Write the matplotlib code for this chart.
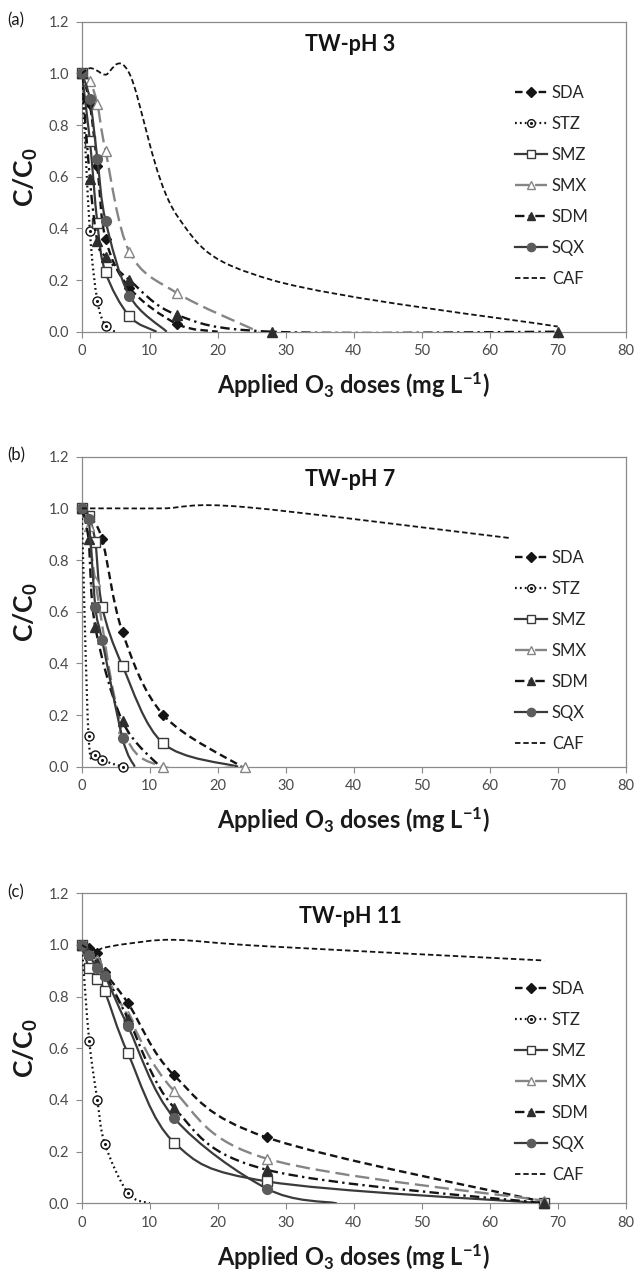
import numpy as np
import matplotlib
matplotlib.use("Agg")
import matplotlib.pyplot as plt
from matplotlib.path import Path
from matplotlib.patches import PathPatch
from matplotlib.lines import Line2D

nan = np.nan

plt.rcParams['font.family'] = ['Lato', 'DejaVu Sans']
plt.rcParams['mathtext.default'] = 'regular'

compounds = ['SDA', 'STZ', 'SMZ', 'SMX', 'SDM', 'SQX', 'CAF']
panel_tags = ['(a)', '(b)', '(c)']
panel_titles = ['TW-pH 3', 'TW-pH 7', 'TW-pH 11']

# --- panel (a) TW-pH 3
doses_a = [0, 1.2, 2.3, 3.5, 7, 14, 28, 70]
sda_a = [1.0, 0.88, 0.64, 0.36, 0.17, 0.03, nan, nan]
stz_a = [1.0, 0.39, 0.12, 0.023, nan, nan, nan, nan]
smz_a = [1.0, 0.74, 0.42, 0.23, 0.06, nan, nan, nan]
smx_a = [1.0, 0.97, 0.88, 0.70, 0.31, 0.15, nan, nan]
sdm_a = [1.0, 0.59, 0.35, 0.29, 0.20, 0.065, 0.0, 0.0]
sqx_a = [1.0, 0.90, 0.67, 0.43, 0.14, nan, nan, nan]
caf_a_x = doses_a
caf_a = [1.0, 1.02, 1.01, 0.995, 1.0, 0.45, 0.20, 0.02]
# dose where a curve runs into the x axis (no marker there)
ends_a = {'SDA': 20, 'STZ': 5, 'SMZ': 11, 'SMX': 26, 'SQX': 12.5}

# --- panel (b) TW-pH 7
doses_b = [0, 1, 2, 3, 6, 12, 24]
sda_b = [1.0, 0.97, nan, 0.88, 0.52, 0.20, nan]
stz_b = [1.0, 0.12, 0.045, 0.025, 0.0, nan, nan]
smz_b = [1.0, 0.97, 0.87, 0.62, 0.39, 0.09, nan]
smx_b = [1.0, 0.93, 0.72, nan, 0.15, 0.0, 0.0]
sdm_b = [1.0, 0.88, 0.54, nan, 0.175, nan, nan]
sqx_b = [1.0, 0.96, 0.62, 0.49, 0.11, nan, nan]
caf_b_x = [0, 6, 12, 24, 63]
caf_b = [1.0, 1.0, 1.0, 1.005, 0.885]
ends_b = {'SDA': 23.5, 'SMZ': 23, 'SDM': 11.5, 'SQX': 7.8}

# --- panel (c) TW-pH 11
doses_c = [0, 1.1, 2.3, 3.4, 6.8, 13.6, 27.2, 68]
sda_c = [1.0, 0.99, 0.97, 0.895, 0.775, 0.495, 0.255, 0.005]
stz_c = [1.0, 0.63, 0.40, 0.23, 0.04, nan, nan, nan]
smz_c = [1.0, 0.91, 0.87, 0.82, 0.58, 0.235, 0.085, 0.0]
smx_c = [1.0, 0.97, 0.94, 0.89, 0.725, 0.435, 0.173, 0.01]
sdm_c = [1.0, 0.97, 0.93, 0.89, 0.715, 0.37, 0.13, 0.0]
sqx_c = [1.0, 0.96, 0.91, 0.88, 0.685, 0.33, 0.057, nan]
caf_c_x = doses_c
caf_c = [1.0, 0.985, 0.98, 0.99, 1.005, 1.02, 0.995, 0.94]
ends_c = {'STZ': 10, 'SQX': 37.5}

panels = [
    (doses_a, [sda_a, stz_a, smz_a, smx_a, sdm_a, sqx_a], caf_a_x, caf_a, ends_a),
    (doses_b, [sda_b, stz_b, smz_b, smx_b, sdm_b, sqx_b], caf_b_x, caf_b, ends_b),
    (doses_c, [sda_c, stz_c, smz_c, smx_c, sdm_c, sqx_c], caf_c_x, caf_c, ends_c),
]

# line / marker look of each compound
styles = {
    'SDA': dict(color='#141414', ls=(0, (3.2, 1.8)), lw=1.7, marker='D', ms=5.5, mfc='#141414', mec='#141414'),
    'STZ': dict(color='#141414', ls=(0, (0.8, 1.4)), lw=1.6, marker='o', ms=6.5, mfc='white', mec='#141414'),
    'SMZ': dict(color='#3a3a3a', ls='-', lw=1.6, marker='s', ms=7, mfc='white', mec='#3a3a3a'),
    'SMX': dict(color='#858585', ls=(0, (6, 2.5)), lw=1.7, marker='^', ms=7, mfc='white', mec='#858585'),
    'SDM': dict(color='#141414', ls=(0, (4, 1.8, 1, 1.8)), lw=1.7, marker='^', ms=7, mfc='#2e2e2e', mec='#2e2e2e'),
    'SQX': dict(color='#3a3a3a', ls='-', lw=1.6, marker='o', ms=7, mfc='#5c5c5c', mec='#5c5c5c'),
    'CAF': dict(color='#141414', ls=(0, (3, 1.6)), lw=1.3, marker=None),
}


# excel-like smoothed line: catmull-rom bezier through the points
def smooth_path(xs, ys):
    pts = np.column_stack([xs, ys]).astype(float)
    n = len(pts)
    verts = [pts[0]]
    codes = [Path.MOVETO]
    for i in range(n - 1):
        p0 = pts[i - 1] if i > 0 else pts[i]
        p1 = pts[i]
        p2 = pts[i + 1]
        p3 = pts[i + 2] if i + 2 < n else pts[i + 1]
        verts += [p1 + (p2 - p0) / 6., p2 - (p3 - p1) / 6., p2]
        codes += [Path.CURVE4] * 3
    return Path(verts, codes)


def draw_series(ax, x, y, end, st, z):
    x = np.asarray(x, float)
    y = np.asarray(y, float)
    ok = ~np.isnan(y)
    xm, ym = x[ok], y[ok]
    xl, yl = list(xm), list(ym)
    if end is not None:
        xl.append(end)
        yl.append(0.0)
    ax.add_patch(PathPatch(smooth_path(xl, yl), fill=False, edgecolor=st['color'],
                           lw=st['lw'], linestyle=st['ls'], capstyle='butt', zorder=z))
    if st['marker']:
        ax.plot(xm, ym, ls='none', marker=st['marker'], ms=st['ms'], mfc=st['mfc'],
                mec=st['mec'], mew=1.0, clip_on=False, zorder=z + 0.5)


def legend_handles():
    hs = []
    for c in compounds:
        st = styles[c]
        if st['marker']:
            h = Line2D([], [], color=st['color'], ls=st['ls'], lw=st['lw'], marker=st['marker'],
                       ms=st['ms'] * 0.85, mfc=st['mfc'], mec=st['mec'])
        else:
            h = Line2D([], [], color=st['color'], ls=st['ls'], lw=st['lw'])
        if c == 'STZ':
            h = (h, Line2D([], [], ls='none', marker='.', ms=2.5, color='#141414'))
        hs.append(h)
    return hs


fig = plt.figure(figsize=(6.37, 12.7), dpi=100)
bottoms = [0.7388, 0.3963, 0.0525]
leg_y = [0.795, 0.70, 0.718]
frame = '#8a8a8a'

for k, (doses, series, caf_x, caf_y, ends) in enumerate(panels):
    ax = fig.add_axes([0.1283, bottoms[k], 0.854, 0.2441])
    ax.set_xlim(0, 80)
    ax.set_ylim(0, 1.2)

    for j, c in enumerate(compounds[:-1]):
        draw_series(ax, doses, series[j], ends.get(c), styles[c], 3 + j)
        if c == 'STZ':
            yy = np.asarray(series[j], float)
            ok = ~np.isnan(yy)
            ax.plot(np.asarray(doses, float)[ok], yy[ok], ls='none', marker='.', ms=2.5,
                    color='#141414', clip_on=False, zorder=3 + j + 0.6)
    draw_series(ax, caf_x, caf_y, None, styles['CAF'], 10)

    ax.set_xticks(np.arange(0, 81, 10))
    ax.set_yticks(np.arange(0, 1.21, 0.2))
    ax.set_yticklabels(['%.1f' % v for v in np.arange(0, 1.21, 0.2)])
    ax.tick_params(direction='out', length=4, width=0.8, color=frame, labelsize=10.5,
                   labelcolor='#4a4a4a', pad=5)
    for s in ax.spines.values():
        s.set_color(frame)
        s.set_linewidth(0.9)

    ax.set_xlabel('Applied O$_3$ doses (mg L$^{-1}$)', fontsize=17, fontweight='bold',
                  color='#1a1a1a', labelpad=9)
    ax.set_ylabel('C/C$_0$', fontsize=19, fontweight='bold', color='#1a1a1a', labelpad=6)
    ax.text(0.493, 0.925, panel_titles[k], transform=ax.transAxes, ha='center', va='center',
            fontsize=15.5, fontweight='bold', color='#141414')
    fig.text(0.012, bottoms[k] + 0.2441 + 0.001, panel_tags[k], ha='left', va='center',
             fontsize=12, color='#1a1a1a')

    ax.legend(legend_handles(), compounds, loc='upper left', bbox_to_anchor=(0.797, leg_y[k]),
              frameon=False, fontsize=12, handlelength=1.9, handletextpad=0.3,
              labelspacing=0.9, borderaxespad=0, borderpad=0, labelcolor='#262626')

fig.savefig('out.png', dpi=100)
